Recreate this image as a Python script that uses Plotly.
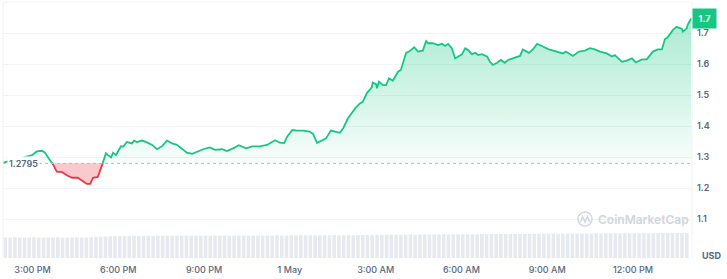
import numpy as np
import pandas as pd
import plotly.graph_objects as go

# ---------------- data ----------------
start_time = "2024-04-30 14:00"
minutes = [-2, 19, 40, 59, 69, 80, 86, 97, 103, 111, 122, 132, 143, 155, 166, 174, 181, 187, 197,
           206, 214, 218, 225, 229, 235, 239, 246, 250, 258, 269, 273, 279, 290, 300, 311, 321, 332,
           342, 353, 363, 376, 384, 395, 405, 418, 432, 443, 458, 468, 481, 493, 508, 521, 537, 552,
           569, 579, 588, 594, 605, 615, 628, 642, 649, 657, 667, 676, 686, 695, 705, 712, 722, 732,
           737, 747, 753, 762, 772, 774, 781, 783, 787, 795, 802, 808, 816, 821, 827, 833, 840, 844,
           850, 861, 869, 879, 886, 890, 900, 911, 919, 926, 932, 940, 947, 953, 961, 968, 974, 982,
           989, 995, 1003, 1014, 1020, 1026, 1035, 1043, 1051, 1058, 1068, 1083, 1089, 1102, 1110,
           1119, 1129, 1142, 1160, 1173, 1179, 1194, 1207, 1219, 1230, 1240, 1251, 1265, 1276, 1282,
           1297, 1307, 1318, 1326, 1339, 1349, 1362, 1372, 1381, 1387, 1393, 1404, 1412, 1423, 1425,
           1433, 1435, 1442]
prices = [1.282, 1.289, 1.298, 1.306, 1.318, 1.320, 1.314, 1.289, 1.276, 1.253, 1.251, 1.241, 1.233,
          1.233, 1.223, 1.213, 1.213, 1.233, 1.236, 1.274, 1.312, 1.306, 1.299, 1.314, 1.306, 1.317,
          1.335, 1.333, 1.348, 1.344, 1.353, 1.348, 1.353, 1.347, 1.339, 1.325, 1.335, 1.353, 1.344,
          1.339, 1.323, 1.314, 1.310, 1.317, 1.325, 1.331, 1.323, 1.325, 1.319, 1.328, 1.338, 1.328,
          1.334, 1.334, 1.339, 1.354, 1.346, 1.345, 1.365, 1.387, 1.385, 1.385, 1.382, 1.374, 1.346,
          1.353, 1.360, 1.385, 1.382, 1.378, 1.393, 1.425, 1.446, 1.457, 1.473, 1.478, 1.507, 1.525,
          1.540, 1.535, 1.522, 1.543, 1.532, 1.532, 1.554, 1.546, 1.559, 1.575, 1.581, 1.613, 1.636,
          1.640, 1.654, 1.640, 1.643, 1.674, 1.667, 1.667, 1.661, 1.665, 1.658, 1.665, 1.651, 1.618,
          1.624, 1.631, 1.651, 1.645, 1.632, 1.636, 1.629, 1.632, 1.624, 1.607, 1.597, 1.604, 1.613,
          1.604, 1.613, 1.618, 1.626, 1.647, 1.636, 1.647, 1.665, 1.658, 1.648, 1.640, 1.634, 1.640,
          1.626, 1.640, 1.643, 1.651, 1.647, 1.640, 1.634, 1.624, 1.629, 1.607, 1.611, 1.618, 1.605,
          1.615, 1.615, 1.640, 1.647, 1.647, 1.680, 1.686, 1.710, 1.720, 1.713, 1.704, 1.715, 1.726,
          1.747]
open_price = 1.2795

volume = [82, 82, 83, 82, 82, 82, 83, 82, 82, 82, 82, 83, 82, 82, 82, 83, 82, 82, 83, 84,
          85, 86, 87, 88, 88,
          88, 88, 89, 88, 89, 89, 88, 89, 89, 89, 89, 89, 89, 90, 89, 89, 89, 90, 89, 90,
          90, 90, 89, 90, 90, 90, 90, 90, 90, 90, 90, 90, 91, 90, 90, 91, 90, 91, 91, 91,
          91, 91, 91, 91, 92, 91, 91, 92, 91, 92,
          92, 92, 92, 93, 92, 93, 93, 93, 93, 93, 94, 93, 94, 94, 94, 94, 94, 95, 94, 95, 95, 95, 95,
          95, 95, 96, 95, 96, 96, 96, 96, 96, 97, 96, 97, 97, 97, 97, 97, 97, 98, 97, 98, 98, 98,
          98, 98, 98, 98, 99, 98, 99, 99, 99, 99, 99, 99, 99, 99, 100, 99, 100, 100, 100, 100,
          100, 100, 100, 100]
volume_step_min = 10

x_tick_times = ["2024-04-30 15:00", "2024-04-30 18:00", "2024-04-30 21:00", "2024-05-01 00:00",
                "2024-05-01 03:00", "2024-05-01 06:00", "2024-05-01 09:00", "2024-05-01 12:00"]
x_tick_text = ["3:00 PM", "6:00 PM", "9:00 PM", "1 May", "3:00 AM", "6:00 AM", "9:00 AM", "12:00 PM"]
y_tick_vals = [1.1, 1.2, 1.3, 1.4, 1.5, 1.6, 1.7, 1.8]
y_tick_text = ["1.1", "1.2", "1.3", "1.4", "1.5", "1.6", "1.7", ""]

GREEN = "#16c784"
RED = "#ea3943"
GRAY = "#58667e"

# ---------------- split at the open price ----------------
m = np.array(minutes, dtype=float)
p = np.array(prices, dtype=float)
mm, pp = [m[0]], [p[0]]
for i in range(len(p) - 1):
    a, b = p[i] - open_price, p[i + 1] - open_price
    if a * b < 0:
        f = a / (a - b)
        mm.append(m[i] + f * (m[i + 1] - m[i]))
        pp.append(open_price)
    mm.append(m[i + 1])
    pp.append(p[i + 1])
mm = np.array(mm)
pp = np.array(pp)
t0 = pd.Timestamp(start_time)
tt = t0 + pd.to_timedelta(mm, unit="min")
base = np.full(len(pp), open_price)
up = np.maximum(pp, open_price)
dn = np.minimum(pp, open_price)
green_line = np.where(pp >= open_price, pp, np.nan)
red_line = np.where(pp <= open_price, pp, np.nan)

vt = t0 + pd.to_timedelta(np.arange(len(volume)) * volume_step_min + volume_step_min / 2 - 2, unit="min")

fig = go.Figure()
fig.add_trace(go.Bar(x=vt, y=volume, yaxis="y2", marker=dict(color="#e6e9ee", line=dict(width=0)),
                     hoverinfo="skip", showlegend=False))
fig.add_trace(go.Scatter(x=tt, y=base, mode="lines", line=dict(width=0), hoverinfo="skip", showlegend=False))
fig.add_trace(go.Scatter(x=tt, y=up, mode="lines", line=dict(width=0), fill="tonexty",
                         fillgradient=dict(type="vertical",
                                           colorscale=[[0, "rgba(22,199,132,0.03)"],
                                                       [1, "rgba(22,199,132,0.36)"]]),
                         hoverinfo="skip", showlegend=False))
fig.add_trace(go.Scatter(x=tt, y=base, mode="lines", line=dict(width=0), hoverinfo="skip", showlegend=False))
fig.add_trace(go.Scatter(x=tt, y=dn, mode="lines", line=dict(width=0), fill="tonexty",
                         fillcolor="rgba(234,57,67,0.27)", hoverinfo="skip", showlegend=False))
fig.add_trace(go.Scatter(x=tt, y=green_line, mode="lines", line=dict(color=GREEN, width=1.8),
                         connectgaps=False, showlegend=False))
fig.add_trace(go.Scatter(x=tt, y=red_line, mode="lines", line=dict(color=RED, width=1.8),
                         connectgaps=False, showlegend=False))

W, H = 727, 279
ml, mr, mt, mb = 3, 35, 2, 21
pw, ph = W - ml - mr, H - mt - mb


def px(x):
    return (x - ml) / pw


def py(y):
    return (H - mb - y) / ph


x_end = t0 + pd.Timedelta(minutes=1444)
x_start = t0 + pd.Timedelta(minutes=-2)

fig.update_layout(
    width=W, height=H, margin=dict(l=ml, r=mr, t=mt, b=mb),
    paper_bgcolor="white", plot_bgcolor="white",
    font=dict(family="Inter, Roboto, sans-serif", color=GRAY),
    bargap=0.25,
    xaxis=dict(type="date", range=[x_start, x_end], tickvals=x_tick_times, ticktext=x_tick_text,
               showgrid=False, zeroline=False, showline=False, ticks="",
               tickfont=dict(size=9, color=GRAY, weight=500), ticklabelstandoff=5),
    yaxis=dict(side="right", range=[0.9742, 1.8], tickvals=y_tick_vals, ticktext=y_tick_text,
               showgrid=True, gridcolor="#f1f3f6", gridwidth=1, zeroline=False, ticks="",
               tickfont=dict(size=9, color=GRAY, weight=600), ticklabelstandoff=4),
    yaxis2=dict(overlaying="y", range=[0, 1024], visible=False),
    showlegend=False,
)

shapes = [
    dict(type="line", xref="paper", yref="y", x0=0, x1=1, y0=open_price, y1=open_price,
         line=dict(color="#b3bac7", width=1, dash="dot"), layer="above"),
    dict(type="line", xref="paper", yref="paper", x0=0, x1=1, y0=1, y1=1,
         line=dict(color="#eff2f5", width=1)),
    dict(type="line", xref="paper", yref="paper", x0=0, x1=0, y0=0, y1=1,
         line=dict(color="#eff2f5", width=1)),
    dict(type="line", xref="paper", yref="paper", x0=1, x1=1, y0=0, y1=1,
         line=dict(color="#eff2f5", width=1)),
    dict(type="circle", xref="paper", yref="paper", x0=px(578), x1=px(592), y0=py(226), y1=py(212),
         line=dict(color="#d3d9e4", width=1.6)),
    dict(type="path", xref="paper", yref="paper",
         path=f"M {px(580.5)},{py(222)} L {px(582.5)},{py(216.5)} L {px(585)},{py(222)} "
              f"L {px(587.5)},{py(216.5)} L {px(589.5)},{py(222)}",
         line=dict(color="#d3d9e4", width=1.6)),
]
fig.update_layout(shapes=shapes)

fig.add_annotation(x=0, xref="paper", y=open_price, yref="y", text="1.2795", showarrow=False,
                   xanchor="left", yanchor="middle", xshift=4, bgcolor="white",
                   font=dict(size=9, color=GRAY, weight=600), borderpad=1)
fig.add_annotation(x=1, xref="paper", y=prices[-1], yref="y", text="1.7", showarrow=False,
                   xanchor="left", yanchor="middle", xshift=0, bgcolor=GREEN, width=19, height=15,
                   font=dict(size=9, color="white", weight=700), borderpad=2)
fig.add_annotation(x=1, xref="paper", y=0, yref="paper", text="USD", showarrow=False,
                   xanchor="left", yanchor="middle", xshift=8, yshift=3,
                   font=dict(size=9, color=GRAY, weight=700))
fig.add_annotation(x=px(596), xref="paper", y=py(219), yref="paper", text="CoinMarketCap",
                   showarrow=False, xanchor="left", yanchor="middle",
                   font=dict(size=12, color="#cfd6e2", weight=600))

fig.write_html("out.html")
